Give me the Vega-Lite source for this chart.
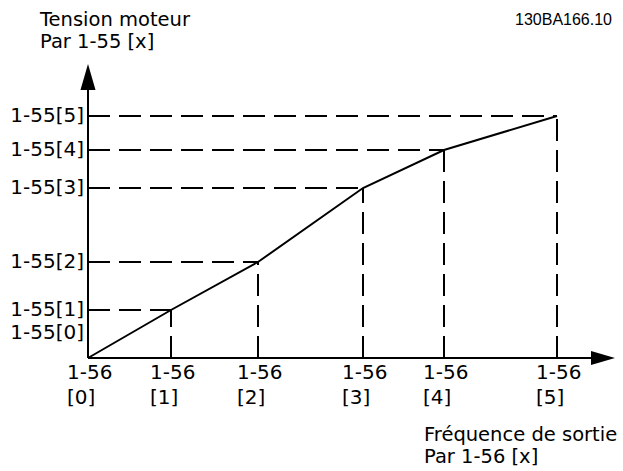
{
  "$schema": "https://vega.github.io/schema/vega-lite/v6.json",
  "width": 623,
  "height": 471,
  "autosize": {"type": "none"},
  "padding": 0,
  "background": "white",
  "config": {"view": {"stroke": null}},
  "datasets": {
    "pts": [
      {"k": 0, "f": 0, "v": 0, "z": 0, "xa": "1-56", "xb": "[0]"},
      {"k": 1, "f": 83, "v": 48, "z": 0, "xa": "1-56", "xb": "[1]"},
      {"k": 2, "f": 170, "v": 96, "z": 0, "xa": "1-56", "xb": "[2]"},
      {"k": 3, "f": 275, "v": 170, "z": 0, "xa": "1-56", "xb": "[3]"},
      {"k": 4, "f": 356, "v": 208, "z": 0, "xa": "1-56", "xb": "[4]"},
      {"k": 5, "f": 469, "v": 242, "z": 0, "xa": "1-56", "xb": "[5]"}
    ],
    "dash": [
      {"f0": 0, "f1": 83, "v0": 48, "v1": 48},
      {"f0": 0, "f1": 170, "v0": 96, "v1": 96},
      {"f0": 0, "f1": 275, "v0": 170, "v1": 170},
      {"f0": 0, "f1": 356, "v0": 208, "v1": 208},
      {"f0": 0, "f1": 469, "v0": 242, "v1": 242},
      {"f0": 83, "f1": 83, "v0": 0, "v1": 48},
      {"f0": 170, "f1": 170, "v0": 0, "v1": 96},
      {"f0": 275, "f1": 275, "v0": 0, "v1": 170},
      {"f0": 356, "f1": 356, "v0": 0, "v1": 208},
      {"f0": 469, "f1": 469, "v0": 0, "v1": 242}
    ],
    "ylab": [
      {"t": "1-55[0]", "f": 0, "v": 25},
      {"t": "1-55[1]", "f": 0, "v": 48},
      {"t": "1-55[2]", "f": 0, "v": 96},
      {"t": "1-55[3]", "f": 0, "v": 170},
      {"t": "1-55[4]", "f": 0, "v": 208},
      {"t": "1-55[5]", "f": 0, "v": 242}
    ],
    "axes": [
      {"f0": 0, "f1": 0, "v0": 0, "v1": 275},
      {"f0": 0, "f1": 508, "v0": 0, "v1": 0}
    ],
    "titles": [
      {"t": "Tension moteur", "f": -48, "v": 332},
      {"t": "Par 1-55 [x]", "f": -48, "v": 310},
      {"t": "Fréquence de sortie", "f": 336, "v": -83},
      {"t": "Par 1-56 [x]", "f": 336, "v": -105}
    ]
  },
  "layer": [
    {
      "data": {"name": "axes"},
      "mark": {"type": "rule", "color": "black", "strokeWidth": 2},
      "encoding": {
        "x": {"field": "f0", "type": "quantitative", "scale": {"domain": [-88, 535], "nice": false, "zero": false}, "axis": null},
        "x2": {"field": "f1"},
        "y": {"field": "v0", "type": "quantitative", "scale": {"domain": [-113, 358], "nice": false, "zero": false}, "axis": null},
        "y2": {"field": "v1"}
      }
    },
    {
      "data": {"name": "dash"},
      "mark": {"type": "rule", "color": "black", "strokeWidth": 2, "strokeDash": [22, 9]},
      "encoding": {
        "x": {"field": "f0", "type": "quantitative", "scale": {"domain": [-88, 535], "nice": false, "zero": false}, "axis": null},
        "x2": {"field": "f1"},
        "y": {"field": "v0", "type": "quantitative", "scale": {"domain": [-113, 358], "nice": false, "zero": false}, "axis": null},
        "y2": {"field": "v1"}
      }
    },
    {
      "data": {"name": "pts"},
      "mark": {"type": "line", "color": "black", "strokeWidth": 2},
      "encoding": {
        "x": {"field": "f", "type": "quantitative", "scale": {"domain": [-88, 535], "nice": false, "zero": false}, "axis": null},
        "y": {"field": "v", "type": "quantitative", "scale": {"domain": [-113, 358], "nice": false, "zero": false}, "axis": null},
        "order": {"field": "k", "type": "quantitative"}
      }
    },
    {
      "data": {"values": [{"f": 0, "v": 281}]},
      "mark": {"type": "point", "shape": "M0,-1L0.58,1L-0.58,1Z", "size": 676, "filled": true, "color": "black", "opacity": 1},
      "encoding": {
        "x": {"field": "f", "type": "quantitative", "scale": {"domain": [-88, 535], "nice": false, "zero": false}, "axis": null},
        "y": {"field": "v", "type": "quantitative", "scale": {"domain": [-113, 358], "nice": false, "zero": false}, "axis": null}
      }
    },
    {
      "data": {"values": [{"f": 515, "v": 0}]},
      "mark": {"type": "point", "shape": "M1,0L-1,-0.58L-1,0.58Z", "size": 576, "filled": true, "color": "black", "opacity": 1},
      "encoding": {
        "x": {"field": "f", "type": "quantitative", "scale": {"domain": [-88, 535], "nice": false, "zero": false}, "axis": null},
        "y": {"field": "v", "type": "quantitative", "scale": {"domain": [-113, 358], "nice": false, "zero": false}, "axis": null}
      }
    },
    {
      "data": {"name": "ylab"},
      "mark": {"type": "text", "align": "right", "baseline": "middle", "dx": -4, "font": "DejaVu Sans", "fontSize": 20, "color": "black"},
      "encoding": {
        "x": {"field": "f", "type": "quantitative", "scale": {"domain": [-88, 535], "nice": false, "zero": false}, "axis": null},
        "y": {"field": "v", "type": "quantitative", "scale": {"domain": [-113, 358], "nice": false, "zero": false}, "axis": null},
        "text": {"field": "t"}
      }
    },
    {
      "data": {"name": "pts"},
      "mark": {"type": "text", "align": "left", "baseline": "middle", "dx": -21, "dy": 15, "font": "DejaVu Sans", "fontSize": 20, "color": "black"},
      "encoding": {
        "x": {"field": "f", "type": "quantitative", "scale": {"domain": [-88, 535], "nice": false, "zero": false}, "axis": null},
        "y": {"field": "z", "type": "quantitative", "scale": {"domain": [-113, 358], "nice": false, "zero": false}, "axis": null},
        "text": {"field": "xa"}
      }
    },
    {
      "data": {"name": "pts"},
      "mark": {"type": "text", "align": "left", "baseline": "middle", "dx": -21, "dy": 40, "font": "DejaVu Sans", "fontSize": 20, "color": "black"},
      "encoding": {
        "x": {"field": "f", "type": "quantitative", "scale": {"domain": [-88, 535], "nice": false, "zero": false}, "axis": null},
        "y": {"field": "z", "type": "quantitative", "scale": {"domain": [-113, 358], "nice": false, "zero": false}, "axis": null},
        "text": {"field": "xb"}
      }
    },
    {
      "data": {"name": "titles"},
      "mark": {"type": "text", "align": "left", "baseline": "alphabetic", "font": "DejaVu Sans", "fontSize": 19.5, "color": "black"},
      "encoding": {
        "x": {"field": "f", "type": "quantitative", "scale": {"domain": [-88, 535], "nice": false, "zero": false}, "axis": null},
        "y": {"field": "v", "type": "quantitative", "scale": {"domain": [-113, 358], "nice": false, "zero": false}, "axis": null},
        "text": {"field": "t"}
      }
    },
    {
      "data": {"values": [{"t": "130BA166.10", "f": 524, "v": 333}]},
      "mark": {"type": "text", "align": "right", "baseline": "alphabetic", "font": "Liberation Sans", "fontSize": 16, "color": "black"},
      "encoding": {
        "x": {"field": "f", "type": "quantitative", "scale": {"domain": [-88, 535], "nice": false, "zero": false}, "axis": null},
        "y": {"field": "v", "type": "quantitative", "scale": {"domain": [-113, 358], "nice": false, "zero": false}, "axis": null},
        "text": {"field": "t"}
      }
    }
  ]
}
